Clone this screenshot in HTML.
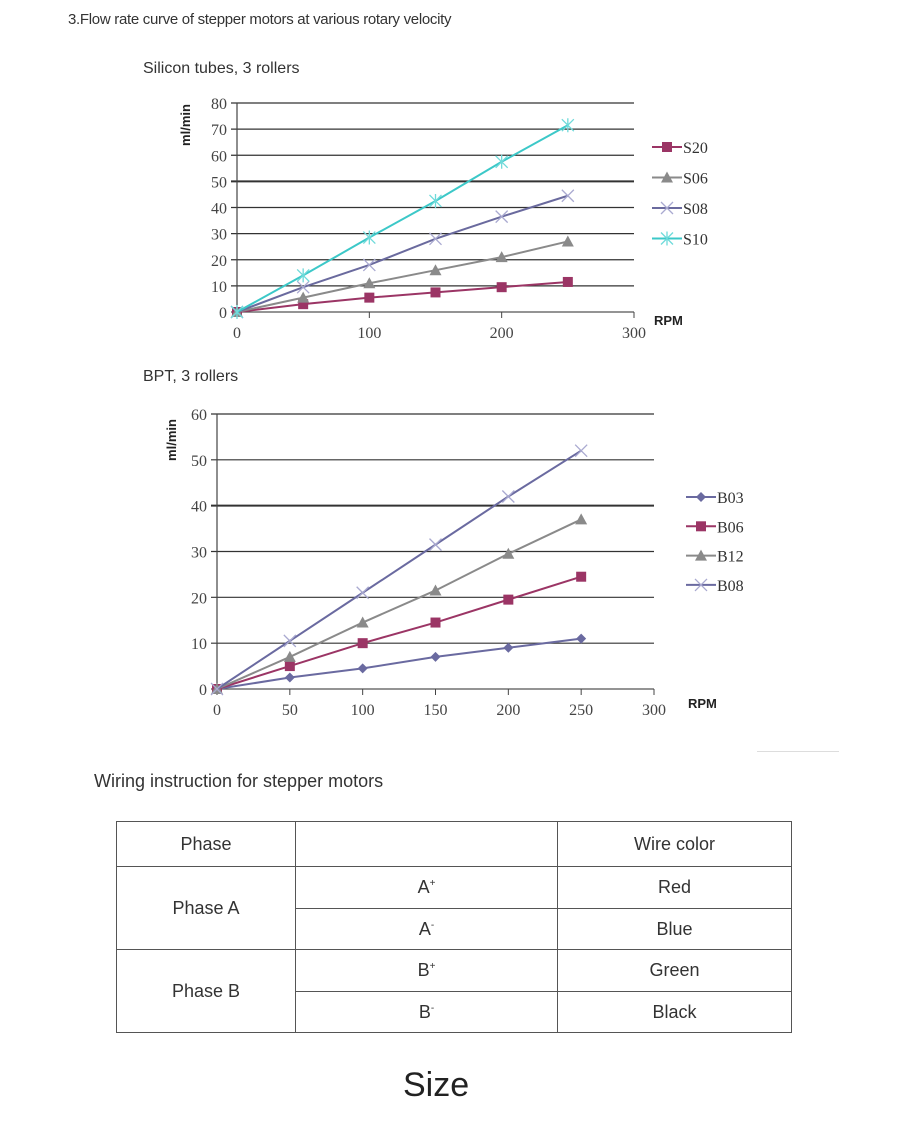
<!DOCTYPE html>
<html><head><meta charset="utf-8">
<style>
body{margin:0;background:#fff;width:920px;height:1132px;position:relative;overflow:hidden;font-family:"Liberation Sans",sans-serif;color:#333}
.t{position:absolute;white-space:nowrap}
table{position:absolute;left:116px;top:821px;border-collapse:collapse;font-size:18px;color:#333}
td{border:1px solid #555;text-align:center;padding:0}
sup{font-size:10px}
</style></head><body>
<div class="t" style="left:68px;top:11px;font-size:15px;letter-spacing:-0.3px">3.Flow rate curve of stepper motors at various rotary velocity</div>
<div class="t" style="left:143px;top:60px;font-size:16px">Silicon tubes, 3 rollers</div>
<div class="t" style="left:143px;top:368px;font-size:16px">BPT, 3 rollers</div>
<div class="t" style="left:94px;top:771px;font-size:18px">Wiring instruction for stepper motors</div>
<div style="position:absolute;left:757px;top:751px;width:82px;height:1px;background:#ddd"></div>
<svg id="svg" width="920" height="800" style="position:absolute;left:0;top:0" font-family="'Liberation Serif',serif"></svg>
<table>
<tr style="height:45px"><td style="width:178px">Phase</td><td style="width:261px"></td><td style="width:233px">Wire color</td></tr>
<tr style="height:42px"><td rowspan="2">Phase A</td><td>A<sup>+</sup></td><td>Red</td></tr>
<tr style="height:41px"><td>A<sup>-</sup></td><td>Blue</td></tr>
<tr style="height:42px"><td rowspan="2">Phase B</td><td>B<sup>+</sup></td><td>Green</td></tr>
<tr style="height:41px"><td>B<sup>-</sup></td><td>Black</td></tr>
</table>
<div class="t" style="left:403px;top:1066px;font-size:34px;color:#222">Size</div>
<script>
const rpm1=[0,50,100,150,200,250];
const s20=[0,3,5.5,7.5,9.5,11.5];
const s06=[0,5.5,11,16,21,27];
const s08=[0,9.5,18,28,36.5,44.5];
const s10=[0,14,28.5,42.5,57.5,71.5];
const xTicks1=[0,100,200,300];
const yTicks1=[0,10,20,30,40,50,60,70,80];
const rpm2=[0,50,100,150,200,250];
const b03=[0,2.5,4.5,7,9,11];
const b06=[0,5,10,14.5,19.5,24.5];
const b12=[0,7,14.5,21.5,29.5,37];
const b08=[0,10.5,21,31.5,42,52];
const xTicks2=[0,50,100,150,200,250,300];
const yTicks2=[0,10,20,30,40,50,60];
const NS="http://www.w3.org/2000/svg";
const svg=document.getElementById('svg');
function el(tag,a,p){const e=document.createElementNS(NS,tag);for(const k in a)e.setAttribute(k,a[k]);(p||svg).appendChild(e);return e;}
function marker(type,x,y,c,g){
 let m;
 if(type==='sq')m=el('rect',{x:x-5,y:y-5,width:10,height:10,fill:c},g);
 else if(type==='tri')m=el('polygon',{points:`${x},${y-6} ${x+6},${y+5} ${x-6},${y+5}`,fill:c},g);
 else if(type==='dia')m=el('polygon',{points:`${x},${y-5} ${x+5},${y} ${x},${y+5} ${x-5},${y}`,fill:c},g);
 else if(type==='x')m=el('path',{d:`M${x-6},${y-6}L${x+6},${y+6}M${x-6},${y+6}L${x+6},${y-6}`,stroke:'#a9a9d0','stroke-width':1.3},g);
 else m=el('path',{d:`M${x-6},${y-6}L${x+6},${y+6}M${x-6},${y+6}L${x+6},${y-6}M${x},${y-7}L${x},${y+7}`,stroke:'#6fdada','stroke-width':1.3},g);
 
 
}
function chart(o){
 const sx=v=>o.x0+(v-o.xmin)/(o.xmax-o.xmin)*(o.x1-o.x0);
 const sy=v=>o.y0-(v)/(o.ymax)*(o.y0-o.y1);
 o.yt.forEach(v=>{
  const l=el('line',{x1:o.x0-6,x2:o.gx,y1:sy(v),y2:sy(v),stroke:v===0?'#555':'#333','stroke-width':v===o.bold?2:1.2});
  
  const t=el('text',{x:o.x0-10,y:sy(v)+6,'text-anchor':'end','font-size':16,fill:'#444'});t.textContent=v;
  
 });
 el('line',{x1:o.x0,x2:o.x0,y1:o.y1,y2:o.y0,stroke:'#444','stroke-width':1.2});
 o.xt.forEach(v=>{
  el('line',{x1:sx(v),x2:sx(v),y1:o.y0,y2:o.y0+6,stroke:'#444'});
  const t=el('text',{x:sx(v),y:o.y0+26,'text-anchor':'middle','font-size':16,fill:'#444'});t.textContent=v;
  
 });
 const yl=el('text',{transform:`translate(${o.ylx},${o.yly}) rotate(-90)`,'font-size':13,'font-weight':'bold','font-family':'Liberation Sans,sans-serif','text-anchor':'middle',fill:'#222'});yl.textContent='ml/min';
 
 const xl=el('text',{x:o.rx,y:o.ry,'font-size':13,'font-weight':'bold','font-family':'Liberation Sans,sans-serif',fill:'#222'});xl.textContent='RPM';
 
 o.series.forEach((s,i)=>{
  const g=el('g',{});
  
  el('polyline',{points:o.xs.map((x,j)=>sx(x)+','+sy(s.v[j])).join(' '),fill:'none',stroke:s.c,'stroke-width':2},g);
  o.xs.forEach((x,j)=>marker(s.m,sx(x),sy(s.v[j]),s.mc||s.c,g));
  const ly=o.ly+i*o.ld;
  const lg=el('g',{});
  
  el('line',{x1:o.lx,x2:o.lx+30,y1:ly,y2:ly,stroke:s.c,'stroke-width':2},lg);
  marker(s.m,o.lx+15,ly,s.mc||s.c,lg);
  const t=el('text',{x:o.lx+31,y:ly+6,'font-size':16,fill:'#333'},lg);t.textContent=s.name;
 });
}
chart({x0:237,x1:634,xmin:0,xmax:300,y0:312,y1:103,ymax:80,gx:634,bold:50,xs:rpm1,xt:xTicks1,yt:yTicks1,ylx:190,yly:125,rx:654,ry:325,lx:652,ly:147,ld:30.5,
 series:[{name:'S20',v:s20,c:'#9b3565',m:'sq'},{name:'S06',v:s06,c:'#8a8a8a',m:'tri'},{name:'S08',v:s08,c:'#6a6a9e',m:'x'},{name:'S10',v:s10,c:'#3cc8c8',m:'star'}]});
chart({x0:217,x1:654,xmin:0,xmax:300,y0:689,y1:414,ymax:60,gx:654,bold:40,xs:rpm2,xt:xTicks2,yt:yTicks2,ylx:176,yly:440,rx:688,ry:708,lx:686,ly:497,ld:29.3,
 series:[{name:'B03',v:b03,c:'#6a6aa0',m:'dia'},{name:'B06',v:b06,c:'#9b3565',m:'sq'},{name:'B12',v:b12,c:'#8a8a8a',m:'tri'},{name:'B08',v:b08,c:'#6a6aa0',m:'x'}]});
</script>
</body></html>
